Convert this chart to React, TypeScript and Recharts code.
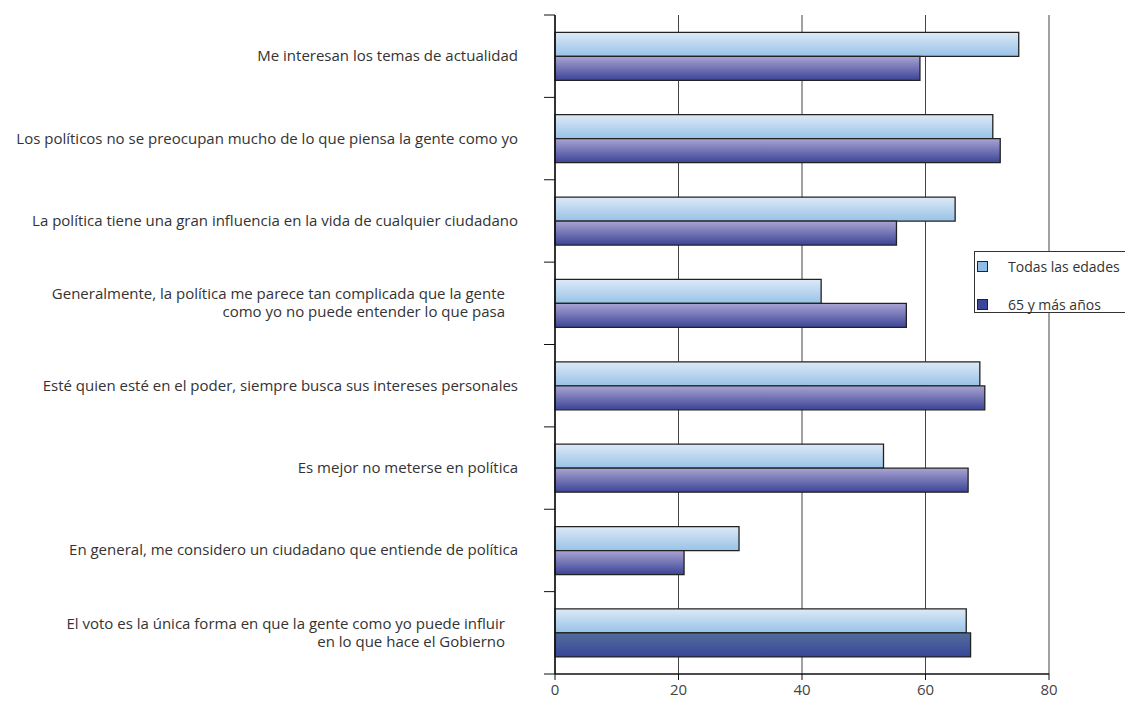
import React from 'react';
import { BarChart, Bar, XAxis, YAxis, CartesianGrid, Cell } from 'recharts';

// Datos
const categories = [
  'Me interesan los temas de actualidad',
  'Los políticos no se preocupan mucho de lo que piensa la gente como yo',
  'La política tiene una gran influencia en la vida de cualquier ciudadano',
  'Generalmente, la política me parece tan complicada que la gente\ncomo yo no puede entender lo que pasa',
  'Esté quien esté en el poder, siempre busca sus intereses personales',
  'Es mejor no meterse en política',
  'En general, me considero un ciudadano que entiende de política',
  'El voto es la única forma en que la gente como yo puede influir\nen lo que hace el Gobierno',
];
const todasLasEdades = [75.1, 70.9, 64.8, 43.1, 68.8, 53.2, 29.8, 66.6];
const mayores65 = [59.1, 72.1, 55.3, 56.9, 69.6, 66.9, 20.9, 67.3];
const xTicks = [0, 20, 40, 60, 80];
const seriesNames = ['Todas las edades', '65 y más años'];

const data = categories.map((label, i) => ({
  label,
  todas: todasLasEdades[i],
  mayores: mayores65[i],
}));

const FONT = '"Open Sans", "DejaVu Sans", sans-serif';

// etiqueta de categoría + marcas en los límites de cada banda
const CategoryTick = (props: any) => {
  const { x, y, payload, index, visibleTicksCount, height } = props;
  const band = height && visibleTicksCount ? height / visibleTicksCount : 82.4;
  const lines = String(payload.value).split('\n');
  const endX = lines.length > 1 ? x - 50 : x - 37;
  const lineH = 18;
  const startY = y - ((lines.length - 1) * lineH) / 2;
  return (
    <g>
      <line x1={x - 11} x2={x} y1={y - band / 2} y2={y - band / 2} stroke="#111" />
      {index === visibleTicksCount - 1 && (
        <line x1={x - 11} x2={x} y1={y + band / 2} y2={y + band / 2} stroke="#111" />
      )}
      {lines.map((l, i) => (
        <text
          key={i}
          x={endX}
          y={startY + i * lineH + 5}
          textAnchor="end"
          fill="#333"
          fontSize={15}
          fontFamily={FONT}
        >
          {l}
        </text>
      ))}
    </g>
  );
};

const Legend = () => (
  <div
    style={{
      position: 'absolute',
      left: 966,
      top: 243,
      width: 175,
      height: 60,
      border: '1px solid #333',
      background: '#fff',
      fontFamily: FONT,
      fontSize: 14,
      color: '#333',
    }}
  >
    {seriesNames.map((name, i) => (
      <div
        key={name}
        style={{ position: 'absolute', left: 2, top: i === 0 ? 4 : 42, height: 20, display: 'flex', alignItems: 'center' }}
      >
        <span
          style={{
            display: 'inline-block',
            width: 9,
            height: 9,
            border: '1px solid #222',
            background: i === 0 ? '#8fbde6' : '#3a469b',
            marginRight: 20,
          }}
        />
        <span>{name}</span>
      </div>
    ))}
  </div>
);

const App = () => {
  return (
    <div style={{ position: 'relative', width: 1125, height: 700, overflow: 'hidden' }}>
      <BarChart
        width={1125}
        height={700}
        layout="vertical"
        data={data}
        margin={{ top: 7, right: 84, left: 0, bottom: 4 }}
        barCategoryGap="21%"
        barGap={0}
      >
        <defs>
          <linearGradient id="gLight" x1="0" y1="0" x2="0" y2="1">
            <stop offset="0%" stopColor="#dde9f7" />
            <stop offset="100%" stopColor="#98c2e7" />
          </linearGradient>
          <linearGradient id="gDark" x1="0" y1="0" x2="0" y2="1">
            <stop offset="0%" stopColor="#a9a4d3" />
            <stop offset="100%" stopColor="#3c4496" />
          </linearGradient>
          <linearGradient id="gDark2" x1="0" y1="0" x2="0" y2="1">
            <stop offset="0%" stopColor="#526d9c" />
            <stop offset="100%" stopColor="#384699" />
          </linearGradient>
        </defs>
        <CartesianGrid horizontal={false} stroke="#444" strokeWidth={1} />
        <XAxis
          type="number"
          domain={[0, 80]}
          ticks={xTicks}
          height={30}
          tickSize={6}
          tickMargin={4}
          axisLine={{ stroke: '#111', strokeWidth: 1.5 }}
          tickLine={{ stroke: '#111' }}
          tick={{ fill: '#444', fontSize: 15, fontFamily: FONT }}
        />
        <YAxis
          type="category"
          dataKey="label"
          width={547}
          tickLine={false}
          tickSize={0}
          tickMargin={0}
          interval={0}
          axisLine={{ stroke: '#111', strokeWidth: 1.5 }}
          tick={<CategoryTick />}
        />
        <Bar dataKey="todas" name={seriesNames[0]} fill="url(#gLight)" stroke="#222" strokeWidth={1.3} isAnimationActive={false} />
        <Bar dataKey="mayores" name={seriesNames[1]} fill="url(#gDark)" stroke="#222" strokeWidth={1.3} isAnimationActive={false}>
          {data.map((d, i) => (
            <Cell key={i} fill={i === data.length - 1 ? 'url(#gDark2)' : 'url(#gDark)'} />
          ))}
        </Bar>
      </BarChart>
      <Legend />
    </div>
  );
};

export default App;
